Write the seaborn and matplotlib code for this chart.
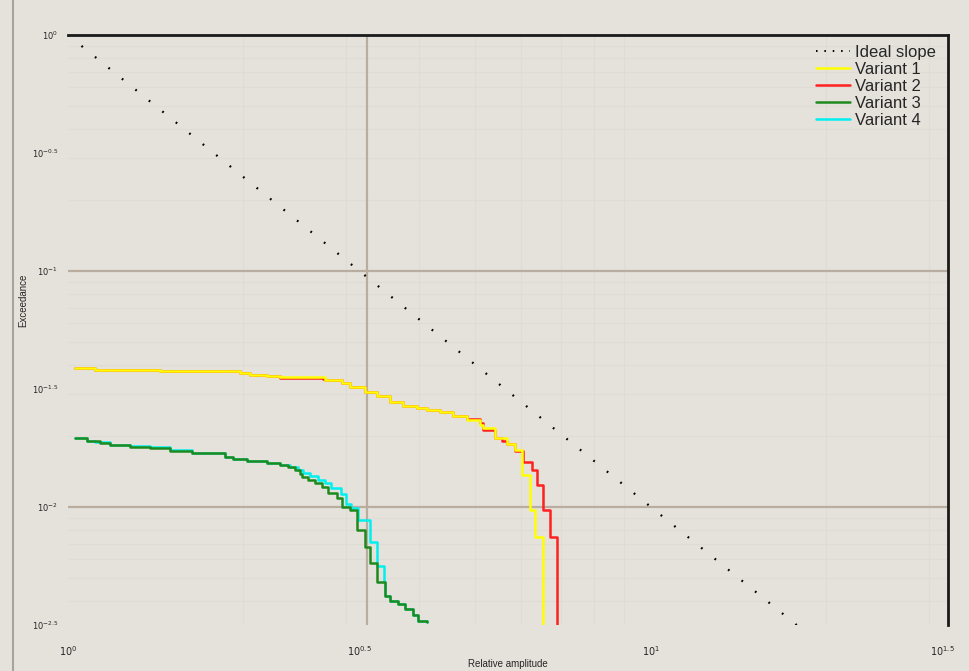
import numpy as np
import pandas as pd
import matplotlib
matplotlib.use("Agg")
import matplotlib.pyplot as plt
import seaborn as sns
from matplotlib.lines import Line2D

# ---------------- data ----------------
v1_x = [1.028, 1.112, 1.438, 1.972, 2.052, 2.194, 2.310, 2.760, 2.951, 3.046, 3.232, 3.388,
        3.567, 3.754, 3.968, 4.129, 4.345, 4.574, 4.834, 5.088, 5.149, 5.400, 5.662, 5.850,
        6.007, 6.200, 6.324, 6.527]
v1_y = [0.0388, 0.0381, 0.0377, 0.0370, 0.0362, 0.0359, 0.0355, 0.0345, 0.0335, 0.0323, 0.0307, 0.0295,
        0.0279, 0.0268, 0.0263, 0.0258, 0.0253, 0.0243, 0.0234, 0.0223, 0.0216, 0.0196, 0.0185, 0.0174,
        0.0137, 0.00971, 0.00746, 0.0010]

v2_x = [1.028, 1.112, 1.438, 1.972, 2.052, 2.194, 2.310, 2.738, 2.760, 2.951, 3.046, 3.232, 3.388,
        3.567, 3.754, 3.968, 4.129, 4.345, 4.574, 4.834, 5.088, 5.149, 5.400, 5.551, 5.662, 5.850,
        6.031, 6.250, 6.374, 6.527, 6.710, 6.898]
v2_y = [0.0388, 0.0381, 0.0377, 0.0370, 0.0362, 0.0359, 0.0352, 0.0349, 0.0345, 0.0335, 0.0323, 0.0307, 0.0295,
        0.0279, 0.0268, 0.0263, 0.0258, 0.0253, 0.0243, 0.0236, 0.0227, 0.0212, 0.0196, 0.0190, 0.0185, 0.0172,
        0.0155, 0.0144, 0.0124, 0.00971, 0.00746, 0.0010]

v3_x = [1.028, 1.078, 1.135, 1.181, 1.277, 1.382, 1.496, 1.632, 1.859, 1.919, 2.028, 2.194,
        2.310, 2.384, 2.452, 2.500, 2.520, 2.580, 2.653, 2.727, 2.793, 2.894, 2.951, 3.046,
        3.131, 3.232, 3.296, 3.388, 3.497, 3.567, 3.681, 3.784, 3.906, 3.984, 4.129]
v3_y = [0.0196, 0.0190, 0.0187, 0.0183, 0.0180, 0.0178, 0.0173, 0.0169, 0.0163, 0.0160, 0.0157, 0.0154,
        0.0151, 0.0148, 0.0144, 0.0138, 0.0134, 0.0130, 0.0126, 0.0122, 0.0115, 0.0109, 0.0100, 0.0097,
        0.0080, 0.0068, 0.0058, 0.0048, 0.0042, 0.0040, 0.0039, 0.0037, 0.0035, 0.0033, 0.00326]

v4_x = [1.028, 1.078, 1.112, 1.181, 1.277, 1.382, 1.496, 1.632, 1.859, 1.919, 2.028, 2.194,
        2.310, 2.403, 2.480, 2.530, 2.601, 2.680, 2.760, 2.830, 2.940, 3.000, 3.060, 3.144,
        3.296, 3.388, 3.483, 3.497, 3.567, 3.681, 3.784, 3.906, 3.984, 4.129]
v4_y = [0.0196, 0.0190, 0.0188, 0.0184, 0.0181, 0.0179, 0.0174, 0.0170, 0.0163, 0.0160, 0.0157, 0.0154,
        0.0151, 0.0148, 0.0144, 0.0139, 0.0135, 0.0130, 0.0126, 0.0120, 0.0113, 0.0103, 0.0099, 0.0088,
        0.0071, 0.0056, 0.0048, 0.0042, 0.0040, 0.0039, 0.0037, 0.0035, 0.0033, 0.00326]

ref_x = [1.0, 17.8]
ref_y = [1.0, 0.00316]

series_names = ["Variant 1", "Variant 2", "Variant 3", "Variant 4"]
ref_name = "Ideal slope"
x_ticks = [1.0, 10 ** 0.5, 10.0, 10 ** 1.5]
x_ticklabels = ["$10^{0}$", "$10^{0.5}$", "$10^{1}$", "$10^{1.5}$"]
y_ticks = [1.0, 10 ** -0.5, 0.1, 10 ** -1.5, 0.01, 10 ** -2.5]
y_ticklabels = ["$10^{0}$", "$10^{-0.5}$", "$10^{-1}$", "$10^{-1.5}$", "$10^{-2}$", "$10^{-2.5}$"]
x_label = "Relative amplitude"
y_label = "Exceedance"

# ---------------- styling ----------------
bg = "#e5e2dc"
sns.set_theme(style="white")
plt.rcParams["font.family"] = ["Liberation Sans", "DejaVu Sans"]

fig = plt.figure(figsize=(9.69, 6.71), dpi=100, facecolor=bg)
ax = fig.add_axes([68 / 969, 1 - 625 / 671, 880 / 969, 590 / 671])
ax.set_facecolor(bg)

frames = []
for name, xs, ys in zip(series_names, [v1_x, v2_x, v3_x, v4_x], [v1_y, v2_y, v3_y, v4_y]):
    frames.append(pd.DataFrame({"x": xs, "y": ys, "series": name}))
df = pd.concat(frames, ignore_index=True)
ref_df = pd.DataFrame({"x": ref_x, "y": ref_y})

colors = {"Variant 1": "#ffff00", "Variant 2": "#ff2020", "Variant 3": "#1e8a1e", "Variant 4": "#00f0f0"}
zorders = {"Variant 1": 4, "Variant 2": 3, "Variant 3": 6, "Variant 4": 5}

ax.set_xscale("log")
ax.set_yscale("log")

ax.set_xlim(1.0, 10 ** 1.51)
ax.set_ylim(10 ** -2.5, 1.0)
ax.xaxis.set_minor_locator(matplotlib.ticker.LogLocator(base=10, subs=np.arange(2, 10)))
ax.yaxis.set_minor_locator(matplotlib.ticker.LogLocator(base=10, subs=np.arange(2, 10)))
ax.grid(which="minor", color="#dfdcd6", linewidth=0.8)
ax.grid(which="major", visible=False)

# major grid lines seen in the picture
ax.axvline(10 ** 0.513, color="#b8ad9e", linewidth=1.6, zorder=1)
ax.axhline(0.1, color="#b8ad9e", linewidth=1.6, zorder=1)
ax.axhline(0.01, color="#b8ad9e", linewidth=1.6, zorder=1)

sns.lineplot(data=ref_df, x="x", y="y", ax=ax, color="black", linewidth=1.6,
             linestyle=(0, (0.8, 7)), zorder=2, legend=False)

for name in series_names:
    sub = df[df["series"] == name]
    sns.lineplot(data=sub, x="x", y="y", ax=ax, color=colors[name], linewidth=1.8,
                 drawstyle="steps-post", zorder=zorders[name], legend=False, sort=False)

ax.set_xticks(x_ticks)
ax.set_xticklabels(x_ticklabels, fontsize=7)
ax.set_yticks(y_ticks)
ax.set_yticklabels(y_ticklabels, fontsize=6)
ax.xaxis.set_minor_formatter(matplotlib.ticker.NullFormatter())
ax.yaxis.set_minor_formatter(matplotlib.ticker.NullFormatter())
ax.tick_params(axis="both", which="both", length=0)
ax.tick_params(axis="x", pad=14)
ax.tick_params(axis="y", pad=7)
ax.set_xlabel(x_label, fontsize=7)
ax.set_ylabel(y_label, fontsize=7)
ax.xaxis.set_label_coords(0.5, -0.058)
ax.yaxis.set_label_coords(-0.045, 0.55)

for s in ["left", "bottom"]:
    ax.spines[s].set_visible(False)
for s in ["top", "right"]:
    ax.spines[s].set_color("#1a1a1a")
    ax.spines[s].set_linewidth(2)

handles = [Line2D([], [], color="black", linestyle=(0, (0.8, 3.5)), linewidth=1.4)]
handles += [Line2D([], [], color=colors[n], linewidth=1.8) for n in series_names]
leg = ax.legend(handles, [ref_name] + series_names, loc="upper right",
                bbox_to_anchor=(0.998, 1.0), frameon=False, fontsize=12,
                handlelength=2.0, handletextpad=0.35, labelspacing=0.12, borderaxespad=0.2)

# window border on the left
fig.add_artist(Line2D([13 / 969, 13 / 969], [0, 1], color="#a8a49c", linewidth=1.5,
                      transform=fig.transFigure))

fig.savefig("out.png", dpi=100, facecolor=bg)
